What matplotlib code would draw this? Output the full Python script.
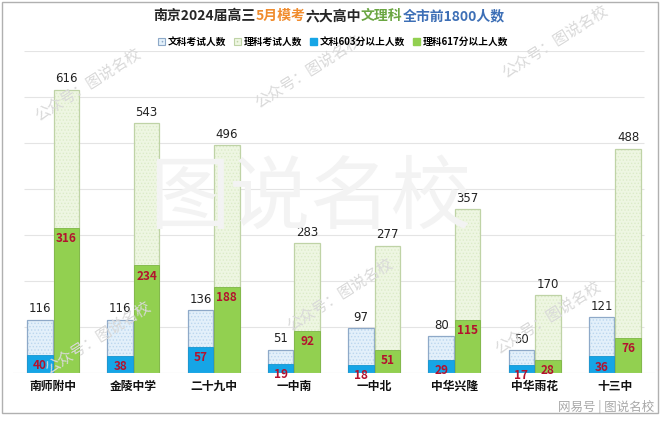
import matplotlib
matplotlib.use("Agg")
import matplotlib.pyplot as plt
import numpy as np
from matplotlib.patches import Patch, Rectangle

plt.rcParams['font.family'] = ['Noto Sans CJK SC', 'DejaVu Sans']
plt.rcParams['hatch.linewidth'] = 0.6

# 数据
schools = ['南师附中', '金陵中学', '二十九中', '一中南', '一中北', '中华兴隆', '中华雨花', '十三中']
wen_total = [116, 116, 136, 51, 97, 80, 50, 121]
li_total = [616, 543, 496, 283, 277, 357, 170, 488]
wen_top = [40, 38, 57, 19, 18, 29, 17, 36]
li_top = [316, 234, 188, 92, 51, 115, 28, 76]

c_blue = '#16A5E6'
c_green = '#92D050'
c_lblue = '#E3F0FA'
c_lgreen = '#EEF6E2'
c_label = '#B3122E'

fig = plt.figure(figsize=(6.6, 4.23), dpi=100)

# 水印（画在底层）
wm = dict(color='#D9D9D9', fontsize=11, rotation=32, ha='center', va='center', zorder=0)
for px, py in [(88, 85), (308, 72), (555, 42), (98, 338), (340, 295), (548, 318)]:
    fig.text(px / 660, 1 - py / 423, '公众号：图说名校', **wm)
fig.text(310 / 660, 1 - 200 / 423, '图说名校', color='#F3F3F3', fontsize=58, ha='center', va='center', zorder=0)
fig.text(606 / 660, 1 - 407 / 423, '网易号 | 图说名校', color='#A8A8A8', fontsize=9, ha='center', va='center')

ax = fig.add_axes([13 / 660, 50 / 423, 642 / 660, 322 / 423])
ax.patch.set_alpha(0)

x = np.arange(len(schools))
w = 0.32
xb = x - 0.165
xg = x + 0.165

# 网格线
for g in range(100, 701, 100):
    ax.hlines(g, -0.36, 7.36, color='#E4E4E4', lw=0.8, zorder=0)

# 考试人数（浅色点状）
ax.bar(xb, wen_total, w, color=c_lblue, hatch='.....', edgecolor='#BBD7EE', lw=0, zorder=1)
ax.bar(xb, wen_total, w, fill=False, edgecolor='#8EA9C8', lw=0.9, zorder=2)
ax.bar(xg, li_total, w, color=c_lgreen, hatch='.....', edgecolor='#DCEBC8', lw=0, zorder=1)
ax.bar(xg, li_total, w, fill=False, edgecolor='#BFD3A6', lw=0.9, zorder=2)

# 高分人数
ax.bar(xb, wen_top, w, color=c_blue, edgecolor='#1595CF', lw=0.6, zorder=3)
ax.bar(xg, li_top, w, color=c_green, edgecolor='#7DB544', lw=0.6, zorder=3)

for i in range(len(schools)):
    ax.annotate(str(wen_total[i]), (xb[i], wen_total[i]), xytext=(0, 3), textcoords='offset points',
                ha='center', va='bottom', fontsize=8.5, color='#222222', family=['DejaVu Sans'], zorder=5)
    ax.annotate(str(li_total[i]), (xg[i], li_total[i]), xytext=(0, 3), textcoords='offset points',
                ha='center', va='bottom', fontsize=8.5, color='#222222', family=['DejaVu Sans'], zorder=5)
    ax.annotate(str(wen_top[i]), (xb[i], wen_top[i]), xytext=(0, -3), textcoords='offset points',
                ha='center', va='top', fontsize=8.5, color=c_label, fontweight='bold', zorder=5)
    ax.annotate(str(li_top[i]), (xg[i], li_top[i]), xytext=(0, -3), textcoords='offset points',
                ha='center', va='top', fontsize=8.5, color=c_label, fontweight='bold', zorder=5)

ax.set_xlim(-0.5, 7.5)
ax.set_ylim(0, 700)
ax.axhline(0, color='#D0D0D0', lw=0.8, zorder=4)
ax.set_xticks(x)
ax.set_xticklabels(schools, fontsize=8.5, fontweight='bold', color='#111111')
ax.tick_params(axis='x', length=0, pad=5)
ax.set_yticks([])
for s in ax.spines.values():
    s.set_visible(False)

# 多色标题
title_parts = [('南京2024届高三', '#262626'), ('5月模考', '#F08C2E'), ('六大高中', '#262626'),
               ('文理科', '#6AA642'), ('全市前1800人数', '#3D6FB6')]
fig.canvas.draw()
r = fig.canvas.get_renderer()
texts = []
total_w = 0
for s, c in title_parts:
    t = fig.text(0, 1 - 16 / 423, s, color=c, fontsize=10, fontweight='bold', va='center', ha='left')
    bb = t.get_window_extent(renderer=r)
    texts.append((t, bb.width))
    total_w += bb.width
x0 = 329 - total_w / 2
for t, wd in texts:
    t.set_x(x0 / 660)
    x0 += wd

# 图例
handles = [Patch(facecolor=c_lblue, edgecolor='#8EA9C8', hatch='....', lw=0.8),
           Patch(facecolor=c_lgreen, edgecolor='#BFD3A6', hatch='....', lw=0.8),
           Patch(facecolor=c_blue, edgecolor=c_blue),
           Patch(facecolor=c_green, edgecolor=c_green)]
labels = ['文科考试人数', '理科考试人数', '文科603分以上人数', '理科617分以上人数']
fig.legend(handles, labels, loc='center', bbox_to_anchor=(333 / 660, 1 - 42 / 423), ncol=4, frameon=False,
           prop={'size': 7, 'weight': 'bold'}, handlelength=0.7, handleheight=0.7, handletextpad=0.3,
           columnspacing=0.8)

# 外框
fig.patches.append(Rectangle((2 / 660, 10 / 423), 656 / 660, 411 / 423, transform=fig.transFigure,
                             fill=False, edgecolor='#B0B0B0', lw=1.0))

fig.savefig('out.png', dpi=100)
